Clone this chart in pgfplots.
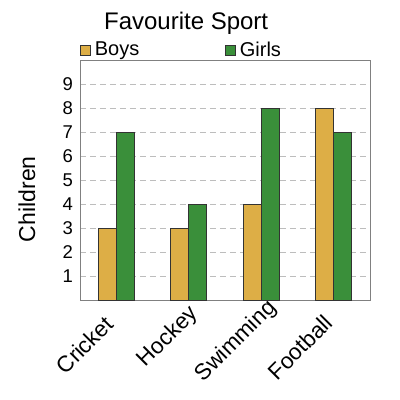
\documentclass[border=0pt]{standalone}
\usepackage{pgfplots}
\pgfplotsset{compat=1.18}
\usepackage{fontspec}
\setmainfont{Liberation Sans}

\definecolor{boys}{HTML}{DDAE46}
\definecolor{girls}{HTML}{3A8F3A}
\definecolor{axisgray}{HTML}{808080}
\definecolor{gridgray}{HTML}{BDBDBD}

\begin{document}
\begin{tikzpicture}[x=1pt,y=1pt]
\useasboundingbox (0,0) rectangle (400,400);
\begin{axis}[
    at={(80pt,100pt)}, anchor=south west,
    scale only axis,
    width=290pt, height=240pt,
    ybar=0pt, bar width=18pt,
    xmin=-0.5, xmax=3.5,
    ymin=0, ymax=10,
    xtick=data,
    xticklabels={Cricket,Hockey\kern-16pt,Swimming\kern-24pt,Football\kern-2pt},
    ytick={1,2,...,9},
    major tick length=0pt,
    ymajorgrids=true,
    grid style={gridgray, dash pattern=on 6pt off 4pt, line width=0.8pt},
    axis line style={axisgray, line width=0.8pt},
    /pgf/number format/assume math mode=true,
    yticklabel style={font=\fontsize{18.5}{20}\selectfont, inner xsep=7pt},
    xticklabel style={font=\fontsize{22.5}{24}\selectfont, rotate=45, anchor=north east, inner sep=0pt, yshift=-1pt, xshift=-19pt},
    ylabel={Children},
    ylabel style={font=\fontsize{23}{26}\selectfont, at={(axis description cs:-0.183,0.42)}, anchor=center},
    title={Favourite Sport},
    title style={font=\fontsize{24}{28}\selectfont, at={(axis description cs:0.366,1)}, anchor=base, yshift=25pt},
    legend columns=2,
    legend image code/.code={\draw[#1] (0pt,-5pt) rectangle (10pt,5pt); \path (12pt,0pt);},
    legend style={at={(axis description cs:0,1)}, anchor=south west, draw=none, fill=none,
        inner sep=0pt, yshift=0pt, font=\fontsize{20}{22}\selectfont,
        /tikz/every even column/.append style={column sep=84pt}},
]
\addplot[fill=boys, draw=black!80, line width=0.6pt] coordinates {(0,3) (1,3) (2,4) (3,8)};
\addplot[fill=girls, draw=black!80, line width=0.6pt] coordinates {(0,7) (1,4) (2,8) (3,7)};
\legend{Boys,Girls}
\end{axis}
\end{tikzpicture}
\end{document}
